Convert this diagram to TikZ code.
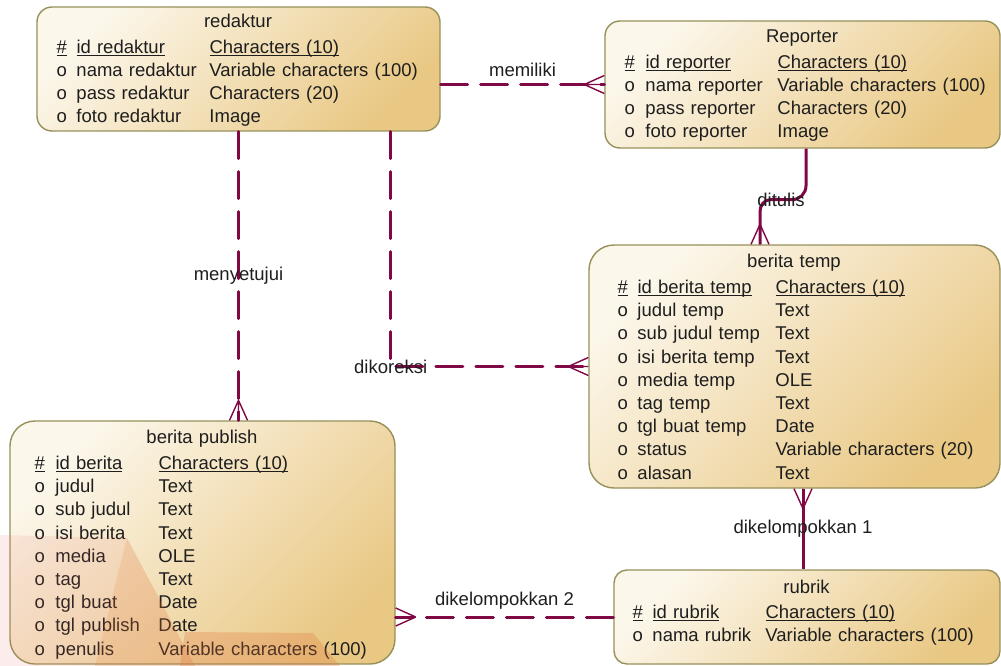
\documentclass[tikz,border=0pt]{standalone}
\usepackage{fontspec}
\setmainfont{Liberation Sans}
\usetikzlibrary{calc}
\definecolor{relc}{RGB}{128,8,68}
\definecolor{entlite}{RGB}{252,247,235}
\definecolor{entdark}{RGB}{233,200,132}
\definecolor{entline}{RGB}{150,145,90}
\definecolor{txtc}{RGB}{30,30,30}
\definecolor{wmred}{RGB}{230,110,100}
\definecolor{wmorange}{RGB}{225,115,60}
% underlined key attribute
\newcommand\keyu[1]{\leavevmode\setbox0\hbox{#1}\rlap{\rule[-2.6pt]{\wd0}{1pt}}\box0}
% crow's foot at a box edge, #2 = direction out of the box
\newcommand\crowfoot[2]{%
  \draw[crow] ($(#1)+(#2:20)$) -- ($(#1)+(#2+90:9)$)
    ($(#1)+(#2:20)$) -- ($(#1)+(#2-90:9)$)
    ($(#1)+(#2:20)$) -- (#1);}
\begin{document}
\begin{tikzpicture}[x=1pt,y=1pt]
  \tikzset{ent/.style={draw=entline,line width=1.4pt,top color=entlite,
      bottom color=entdark,shading angle=45,inner sep=0pt},
    tbl/.style={anchor=north west,inner sep=0pt,text=txtc,
      font=\fontsize{18.5pt}{23.2pt}\selectfont},
    rel/.style={draw=relc,line width=3pt},
    dsh/.style={dash pattern=on 27pt off 13pt,line cap=round},
    crow/.style={draw=relc,line width=1.4pt},
    lbl/.style={text=txtc,font=\fontsize{18.5pt}{22pt}\selectfont,inner sep=2pt}}
  \useasboundingbox (0,0) rectangle (1001,-666);

  % entities
  \node[ent,minimum width=403pt,minimum height=124pt,rounded corners=15pt] (red) at (238.5,-69) {};
  \node[tbl,text width=363pt] (red-t) at ([xshift=20pt,yshift=-4.3pt]red.north west) {%
    {\centering\noindent\strut redaktur\par}\vspace{2.8pt}\noindent
    \begin{tabular}[t]{@{}p{20pt}@{}p{133pt}@{}l@{}}
      \keyu{\#} & \keyu{id redaktur} & \keyu{Characters (10)}\\
      o & nama redaktur & Variable characters (100)\\
      o & pass redaktur & Characters (20)\\
      o & foto redaktur & Image
    \end{tabular}};

  \node[ent,minimum width=395pt,minimum height=127pt,rounded corners=15pt] (rep) at (802.5,-84.5) {};
  \node[tbl,text width=355pt] (rep-t) at ([xshift=20pt,yshift=-5.3pt]rep.north west) {%
    {\centering\noindent\strut Reporter\par}\vspace{2.8pt}\noindent
    \begin{tabular}[t]{@{}p{21pt}@{}p{132pt}@{}l@{}}
      \keyu{\#} & \keyu{id reporter} & \keyu{Characters (10)}\\
      o & nama reporter & Variable characters (100)\\
      o & pass reporter & Characters (20)\\
      o & foto reporter & Image
    \end{tabular}};

  \node[ent,minimum width=411pt,minimum height=243pt,rounded corners=25pt] (temp) at (794.5,-366.5) {};
  \node[tbl,text width=353pt] (temp-t) at ([xshift=29pt,yshift=-6.3pt]temp.north west) {%
    {\centering\noindent\strut berita temp\par}\vspace{3.2pt}\noindent
    \begin{tabular}[t]{@{}p{20pt}@{}p{138pt}@{}l@{}}
      \keyu{\#} & \keyu{id berita temp} & \keyu{Characters (10)}\\
      o & judul temp & Text\\
      o & sub judul temp & Text\\
      o & isi berita temp & Text\\
      o & media temp & OLE\\
      o & tag temp & Text\\
      o & tgl buat temp & Date\\
      o & status & Variable characters (20)\\
      o & alasan & Text
    \end{tabular}};

  \node[ent,minimum width=385pt,minimum height=243pt,rounded corners=25pt] (pub) at (202.5,-542.5) {};
  \node[tbl,text width=335pt] (pub-t) at ([xshift=25pt,yshift=-6.3pt]pub.north west) {%
    {\centering\noindent\strut berita publish\par}\vspace{3.2pt}\noindent
    \begin{tabular}[t]{@{}p{21pt}@{}p{103pt}@{}l@{}}
      \keyu{\#} & \keyu{id berita} & \keyu{Characters (10)}\\
      o & judul & Text\\
      o & sub judul & Text\\
      o & isi berita & Text\\
      o & media & OLE\\
      o & tag & Text\\
      o & tgl buat & Date\\
      o & tgl publish & Date\\
      o & penulis & Variable characters (100)
    \end{tabular}};

  \node[ent,minimum width=386pt,minimum height=94pt,rounded corners=13pt] (rub) at (807,-617) {};
  \node[tbl,text width=348pt] (rub-t) at ([xshift=19pt,yshift=-7.3pt]rub.north west) {%
    {\centering\noindent\strut rubrik\par}\vspace{1.8pt}\noindent
    \begin{tabular}[t]{@{}p{20pt}@{}p{113pt}@{}l@{}}
      \keyu{\#} & \keyu{id rubrik} & \keyu{Characters (10)}\\
      o & nama rubrik & Variable characters (100)
    \end{tabular}};

  % relationships
  \coordinate (mt) at (red.south |- pub.north);
  \coordinate (dt) at ([xshift=-34.5pt]temp.north);
  \coordinate (dk1) at ([xshift=8.5pt]temp.south);
  \coordinate (dk2) at (rub.west -| pub.east);

  \draw[rel,dsh] (red.east |- rep.west) -- node[lbl,above=4pt] (memiliki) {memiliki} (rep.west);
  \draw[rel,dsh] (red.south) -- node[lbl] (menyetujui) {menyetujui} (mt);
  \draw[rel,dsh] ([xshift=-50pt]red.south east) |- node[lbl] (dikoreksi) {dikoreksi} (temp.west);
  \draw[rel] ([xshift=3.5pt]rep.south) -- ++(0,-37) to[out=-90,in=0] ++(-14,-14)
    -- node[lbl] (ditulis) {ditulis} ++(-22,0) to[out=180,in=90] ++(-10,-12) -- (dt);
  \draw[rel] (dk1) -- node[lbl] (dikel1) {dikelompokkan 1} (dk1 |- rub.north);
  \draw[rel,dsh] (rub.west) -- node[lbl,above=4pt] (dikel2) {dikelompokkan 2} (dk2);

  \crowfoot{rep.west}{180}
  \crowfoot{mt}{90}
  \crowfoot{temp.west}{180}
  \crowfoot{dt}{90}
  \crowfoot{dk1}{-90}
  \crowfoot{dk2}{0}

  % watermark
  \fill[wmred,opacity=.12] (0,-535) -- (127,-538) -- (95,-666) -- (0,-666) -- cycle;
  \fill[wmorange,opacity=.25] (127,-538) -- (95,-666) -- (195,-666) -- cycle;
  \fill[wmorange,opacity=.28] (185,-632) -- (313,-633) -- (340,-666) -- (180,-666) -- cycle;
\end{tikzpicture}
\end{document}
